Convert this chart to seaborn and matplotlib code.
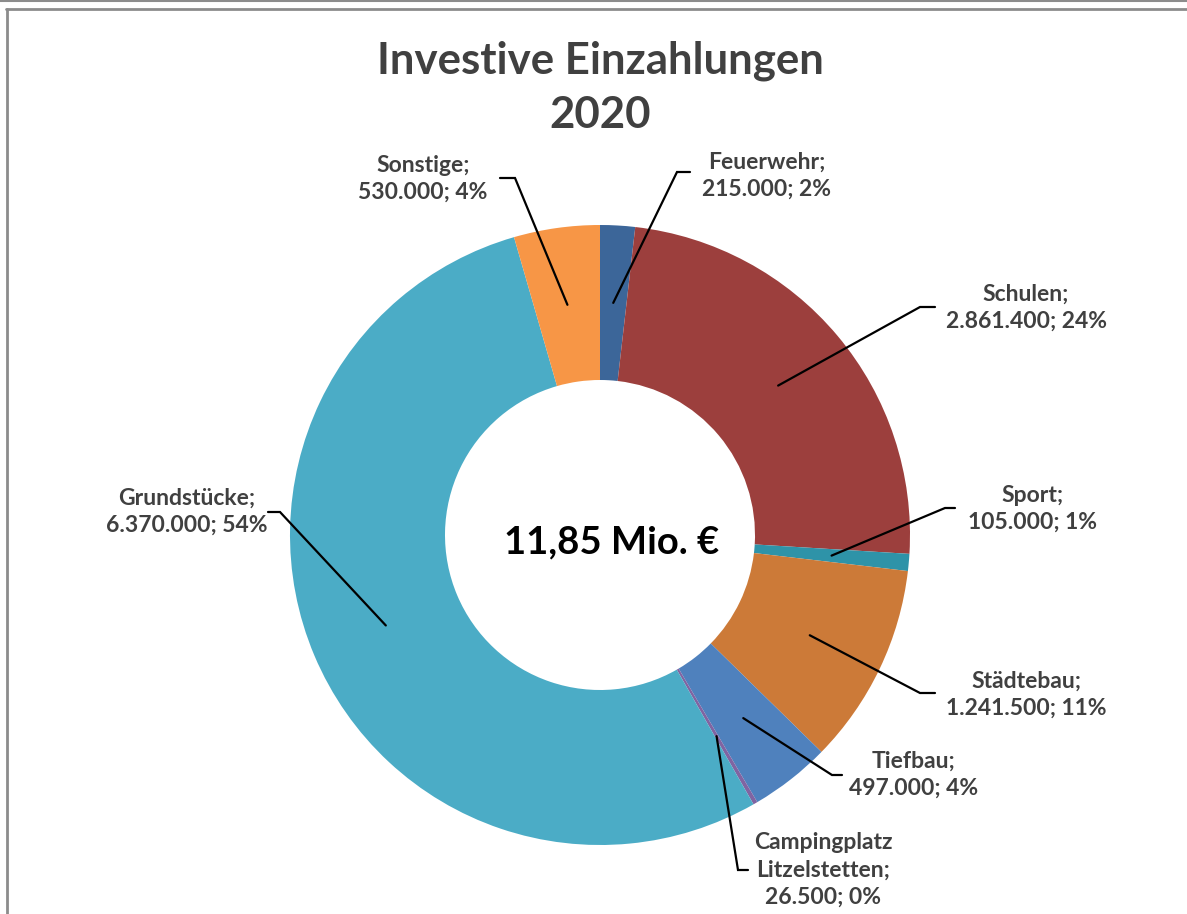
import numpy as np
import matplotlib
matplotlib.use("Agg")
import matplotlib.pyplot as plt
from matplotlib.lines import Line2D
import seaborn as sns

# Daten
kategorien = ["Feuerwehr", "Schulen", "Sport", "Städtebau", "Tiefbau",
              "Campingplatz\nLitzelstetten", "Grundstücke", "Sonstige"]
betraege = [215000, 2861400, 105000, 1241500, 497000, 26500, 6370000, 530000]
prozente = ["2%", "24%", "1%", "11%", "4%", "0%", "54%", "4%"]
farben = ["#3C6699", "#9C3F3D", "#2E93A8", "#CC7A38", "#4F81BD",
          "#8064A2", "#4BACC6", "#F79646"]
titel = "Investive Einzahlungen\n2020"
summe_text = "11,85 Mio. €"

sns.set_theme(style="white")
plt.rcParams["font.family"] = ["Lato", "DejaVu Sans"]

W, H = 1187, 914
fig = plt.figure(figsize=(W / 100, H / 100), dpi=100)
cx, cy, R = 600, 535, 310
ax = fig.add_axes([(cx - R) / W, (H - cy - R) / H, 2 * R / W, 2 * R / H])

wedges, _ = ax.pie(betraege, colors=farben, startangle=90, counterclock=False,
                   radius=1.0, wedgeprops=dict(width=0.5, linewidth=0))
ax.set_xlim(-1, 1)
ax.set_ylim(-1, 1)
ax.set_aspect("equal")
ax.axis("off")


def px(x, y):
    # Pixelkoordinaten -> Datenkoordinaten der Achse
    return (x - cx) / R, (cy - y) / R


# Position von Knick und Text je Beschriftung (Pixel)
knick = [(677, 172), (920, 307), (945, 508), (920, 693), (832, 775),
         (738, 870), (280, 512), (515, 178)]
ende = [(690, 172), (935, 307), (955, 508), (935, 693), (842, 775),
        (748, 870), (268, 512), (500, 178)]
textpos = [(767, 176), (1026, 308), (1032, 509), (1026, 695), (914, 775),
           (823, 870), (187, 512), (423, 179)]

textfarbe = "#404040"
for w, name, wert, p, k, e, t in zip(wedges, kategorien, betraege, prozente,
                                     knick, ende, textpos):
    ang = np.deg2rad((w.theta1 + w.theta2) / 2)
    sx, sy = 0.75 * np.cos(ang), 0.75 * np.sin(ang)
    kx, ky = px(*k)
    ex, ey = px(*e)
    ax.plot([sx, kx, ex], [sy, ky, ey], color="black", lw=1.6, clip_on=False,
            solid_joinstyle="miter")
    wert_str = f"{wert:,}".replace(",", ".")
    tx, ty = px(*t)
    ax.text(tx, ty, f"{name};\n{wert_str}; {p}", ha="center", va="center",
            fontsize=16.5, fontweight="bold", color=textfarbe,
            linespacing=1.36, clip_on=False)

ax.text(*px(612, 542), summe_text, ha="center", va="center", fontsize=27.5,
        fontweight="bold", color="black")

fig.text(600 / W, 1 - 88 / H, titel, ha="center", va="center", fontsize=31.5,
         fontweight="bold", color=textfarbe, linespacing=1.42)

# Rahmen
rahmen = "#8c8c8c"
fig.add_artist(Line2D([0, 1], [1 - 0.5 / H, 1 - 0.5 / H], color=rahmen, lw=1.5))
fig.add_artist(Line2D([6 / W, 1], [1 - 8.5 / H, 1 - 8.5 / H], color=rahmen, lw=2))
fig.add_artist(Line2D([6.5 / W, 6.5 / W], [0, 1 - 8.5 / H], color=rahmen, lw=2))

fig.savefig("out.png", dpi=100, facecolor="white")
